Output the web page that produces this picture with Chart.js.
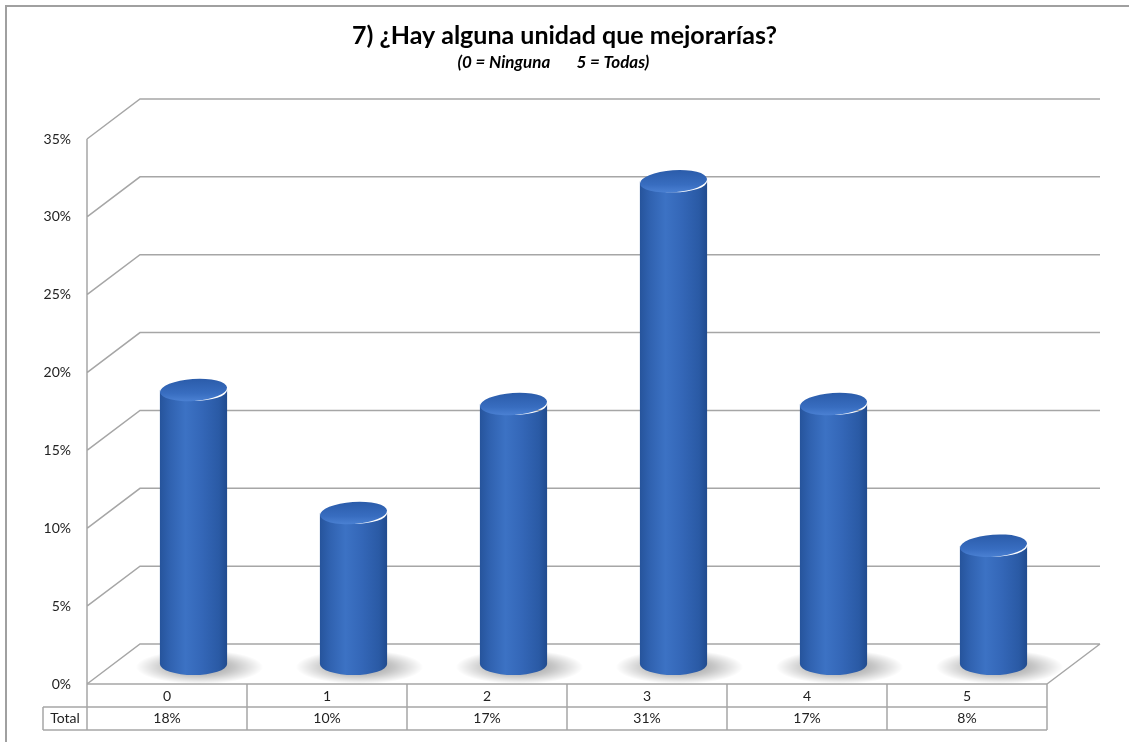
<!DOCTYPE html>
<html>
<head>
<meta charset="utf-8">
<title>7) ¿Hay alguna unidad que mejorarías?</title>
<script src="https://cdn.jsdelivr.net/npm/chart.js@4/dist/chart.umd.min.js"></script>
<style>
    html, body { margin: 0; padding: 0; background: #fff; }
    #wrap { width: 1129px; height: 742px; }
</style>
</head>
<body>
<div id="wrap"><canvas id="unitsChart" width="1129" height="742"></canvas></div>
<script>
(function () {
    'use strict';

    var categories = ['0', '1', '2', '3', '4', '5'];
    var percentages = [17.6, 9.7, 16.7, 31.0, 16.7, 7.6];
    var rowLabel = 'Total';
    var yMax = 35;
    var yStep = 5;

    // depth of the 3d box (back wall offset from the front plane)
    var depthX = 53;
    var depthY = -40;
    var lineColor = '#a6a6a6';
    var textFont = '14px Lato';

    var boxPlugin = {
        id: 'box3d',
        beforeDatasetsDraw: function (chart) {
            var ctx = chart.ctx;
            var area = chart.chartArea;
            var y = chart.scales.y;
            ctx.save();
            ctx.strokeStyle = lineColor;
            ctx.lineWidth = 1.5;
            ctx.beginPath();
            y.ticks.forEach(function (t) {
                var py = y.getPixelForValue(t.value);
                ctx.moveTo(area.left, py);
                ctx.lineTo(area.left + depthX, py + depthY);
                ctx.lineTo(area.right + depthX, py + depthY);
            });
            ctx.moveTo(area.left, y.getPixelForValue(yMax));
            ctx.lineTo(area.left, area.bottom);
            ctx.moveTo(area.right, area.bottom);
            ctx.lineTo(area.right + depthX, area.bottom + depthY);
            ctx.stroke();
            ctx.restore();
        },
        afterDatasetsDraw: function (chart) {
            var ctx = chart.ctx;
            var bars = chart.getDatasetMeta(0).data;
            var mx = depthX / 2, my = depthY / 2;

            //shadows first so no cylinder gets covered
            bars.forEach(function (bar) {
                var p = bar.getProps(['x', 'base', 'width'], true);
                var cx = p.x + mx + 6, cy = p.base + my + 3;
                var r = p.width / 2 + 30;
                ctx.save();
                ctx.translate(cx, cy);
                ctx.scale(1, 17 / r);
                var g = ctx.createRadialGradient(0, 0, 0, 0, 0, r);
                g.addColorStop(0, 'rgba(0,0,0,0.42)');
                g.addColorStop(0.55, 'rgba(0,0,0,0.22)');
                g.addColorStop(1, 'rgba(0,0,0,0)');
                ctx.fillStyle = g;
                ctx.beginPath();
                ctx.arc(0, 0, r, 0, Math.PI * 2);
                ctx.fill();
                ctx.restore();
            });

            bars.forEach(function (bar) {
                var p = bar.getProps(['x', 'y', 'base', 'width'], true);
                var cx = p.x + mx;
                var top = p.y + my;
                var bottom = p.base + my;
                var rx = p.width / 2, ry = 11;

                var body = ctx.createLinearGradient(cx - rx, 0, cx + rx, 0);
                body.addColorStop(0, '#26549c');
                body.addColorStop(0.15, '#3062b0');
                body.addColorStop(0.38, '#3c72c4');
                body.addColorStop(0.62, '#3467b8');
                body.addColorStop(0.88, '#2a5aa5');
                body.addColorStop(1, '#214b8e');
                ctx.save();
                ctx.fillStyle = body;
                ctx.beginPath();
                ctx.moveTo(cx - rx, top);
                ctx.lineTo(cx - rx, bottom);
                ctx.ellipse(cx, bottom, rx, ry, 0, Math.PI, 0, true);
                ctx.lineTo(cx + rx, top);
                ctx.ellipse(cx, top, rx, ry, 0, 0, Math.PI, false);
                ctx.closePath();
                ctx.fill();

                var cap = ctx.createLinearGradient(0, top - ry, 0, top + ry);
                cap.addColorStop(0, '#2b5caa');
                cap.addColorStop(0.65, '#386dc0');
                cap.addColorStop(1, '#4a80d2');
                ctx.fillStyle = cap;
                ctx.beginPath();
                ctx.ellipse(cx, top, rx, ry, -0.07, 0, Math.PI * 2);
                ctx.fill();
                ctx.restore();
            });
        },
        afterDraw: function (chart) {
            var ctx = chart.ctx;
            var area = chart.chartArea;
            var x = chart.scales.x;
            var colW = (area.right - area.left) / categories.length;
            var rowH = 23;
            var headLeft = 43;
            var r1 = area.bottom + rowH, r2 = area.bottom + rowH * 2;

            ctx.save();
            ctx.strokeStyle = lineColor;
            ctx.lineWidth = 1.5;
            ctx.beginPath();
            ctx.moveTo(area.left, area.bottom);
            ctx.lineTo(area.right, area.bottom);
            ctx.moveTo(headLeft, r1);
            ctx.lineTo(area.right, r1);
            ctx.moveTo(headLeft, r2);
            ctx.lineTo(area.right, r2);
            ctx.moveTo(headLeft, r1);
            ctx.lineTo(headLeft, r2);
            for (var i = 0; i <= categories.length; i++) {
                var lx = area.left + colW * i;
                ctx.moveTo(lx, area.bottom);
                ctx.lineTo(lx, r2);
            }
            ctx.stroke();

            ctx.fillStyle = '#222';
            ctx.font = textFont;
            ctx.textAlign = 'center';
            ctx.textBaseline = 'middle';
            ctx.fillText(rowLabel, (headLeft + area.left) / 2, r1 + rowH / 2);
            percentages.forEach(function (v, idx) {
                ctx.fillText(Math.round(v) + '%', x.getPixelForValue(idx), r1 + rowH / 2);
            });

            // outer frame (only top and left edges are inside the picture)
            ctx.strokeStyle = '#a0a0a0';
            ctx.lineWidth = 2;
            ctx.beginPath();
            ctx.moveTo(6, chart.height);
            ctx.lineTo(6, 6);
            ctx.lineTo(chart.width, 6);
            ctx.stroke();
            ctx.restore();
        }
    };

    var ctx = document.getElementById('unitsChart').getContext('2d');
    new Chart(ctx, {
        type: 'bar',
        data: {
            labels: categories,
            datasets: [{
                label: rowLabel,
                data: percentages,
                backgroundColor: 'rgba(0,0,0,0)',
                borderWidth: 0,
                categoryPercentage: 1,
                barPercentage: 0.42
            }]
        },
        options: {
            responsive: false,
            animation: false,
            events: [],
            layout: { padding: { top: 5, right: 0, bottom: 0, left: 0 } },
            plugins: {
                legend: { display: false },
                tooltip: { enabled: false },
                title: {
                    display: true,
                    text: '7) ¿Hay alguna unidad que mejorarías?',
                    color: '#000',
                    font: { family: 'Lato', size: 25, weight: 'bold', lineHeight: 1.2 },
                    padding: { top: 16, bottom: 1 }
                },
                subtitle: {
                    display: true,
                    // trailing spaces as in the original subtitle, shifts it a bit left
                    text: '(0 = Ninguna       5 = Todas)      ',
                    color: '#000',
                    font: { family: 'Lato', size: 17, weight: 'bold', style: 'italic', lineHeight: 1.2 },
                    padding: { top: 0, bottom: 66.6 }
                }
            },
            scales: {
                y: {
                    min: 0,
                    max: yMax,
                    grid: { display: false, drawTicks: false },
                    border: { display: false },
                    ticks: {
                        stepSize: yStep,
                        padding: 16,
                        color: '#222',
                        font: { family: 'Lato', size: 14 },
                        callback: function (v) { return v + '%'; }
                    },
                    afterFit: function (axis) { axis.width = 87; }
                },
                // empty axis on the right, keeps room for the box depth
                depth: {
                    position: 'right',
                    display: true,
                    grid: { display: false, drawTicks: false },
                    border: { display: false },
                    ticks: { display: false },
                    afterFit: function (axis) { axis.width = 82; }
                },
                x: {
                    grid: { display: false, drawTicks: false },
                    border: { display: false },
                    ticks: {
                        padding: 4,
                        color: '#222',
                        font: { family: 'Lato', size: 14 }
                    },
                    afterFit: function (axis) { axis.height = 58; }
                }
            }
        },
        plugins: [boxPlugin]
    });
})();
</script>
</body>
</html>
